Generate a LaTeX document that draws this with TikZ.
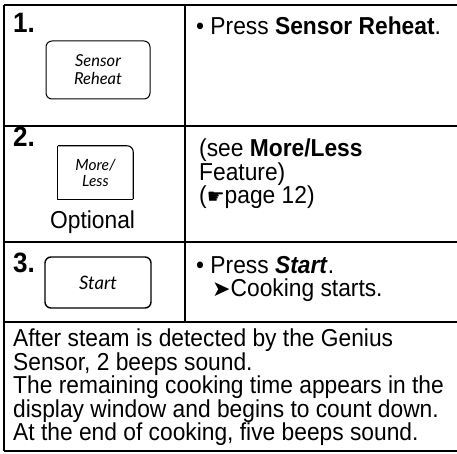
\documentclass[tikz,border=0pt]{standalone}
\usepackage{fontspec}
\setmainfont[FakeStretch=0.93]{Liberation Sans}
\newfontfamily\keyfont{Lato}
\newfontfamily\symfont{DejaVu Sans}
\usepackage{tikz}

\begin{document}
\begin{tikzpicture}
  [x=1pt,y=-1pt,line join=round,
   every node/.style={inner sep=0pt,font=\fontsize{24.5}{23.5}\selectfont},
   stepnum/.style={anchor=base west,font=\fontsize{28}{28}\selectfont\bfseries},
   txt/.style={anchor=base west},
   para/.style={anchor=north west,align=left},
   keybox/.style={draw,rounded corners=6pt,line width=1pt,align=center,
                  font=\fontsize{16.5}{18}\selectfont\keyfont\itshape}]
  \useasboundingbox (0,0) rectangle (457,454);

  % table
  \foreach \y in {5,126,242,322,451}
    \draw[line width=1.2pt] (4,\y) -- (457,\y);
  \draw[line width=1.2pt] (4,5) -- (4,451);
  \draw[line width=1.2pt] (185,5) -- (185,322);

  % step 1
  \node[stepnum] (s1) at (13,33) {1.};
  \node[keybox,minimum width=104pt,minimum height=58pt] (reheat) at (98,70) {Sensor\\Reheat};
  \node[txt] (t1) at (196,35) {\textbullet\ Press \textbf{Sensor Reheat}.};

  % step 2
  \node[stepnum] (s2) at (13,147) {2.};
  \node[minimum width=75pt,minimum height=53pt,align=center,
        font=\fontsize{15.5}{16}\selectfont\keyfont\itshape] (mless) at (95.5,172.5) {More/\\Less};
  \draw[line width=1.1pt,rounded corners=6pt] (mless.north west) -- (mless.north east) -- (mless.south east);
  \draw[line width=1.1pt] (mless.south east) -- (mless.south west) -- (mless.north west);
  \node[txt] (opt) at (50,229) {Optional};
  \node[para] (t2) at (199,139) {(see \textbf{More/Less}\\Feature)\\({\symfont\fontsize{20}{20}\selectfont ☛}page 12)};

  % step 3
  \node[stepnum] (s3) at (13,272) {3.};
  \node[keybox,line width=1.4pt,minimum width=106pt,minimum height=51pt,
        font=\fontsize{18.5}{18}\selectfont\keyfont\itshape] (start) at (98,282.5) {Start};
  \node[txt] (t3) at (196,273) {\textbullet\ Press \textbf{\textit{Start}}.};
  \node[txt] (t4) at (212,296) {{\symfont\fontsize{22}{22}\selectfont ➤}Cooking starts.};

  % note
  \node[para] (note) at (13,329) {After steam is detected by the Genius\\
    Sensor, 2 beeps sound.\\
    The remaining cooking time appears in the\\
    display window and begins to count down.\\
    At the end of cooking, five beeps sound.};
\end{tikzpicture}
\end{document}
